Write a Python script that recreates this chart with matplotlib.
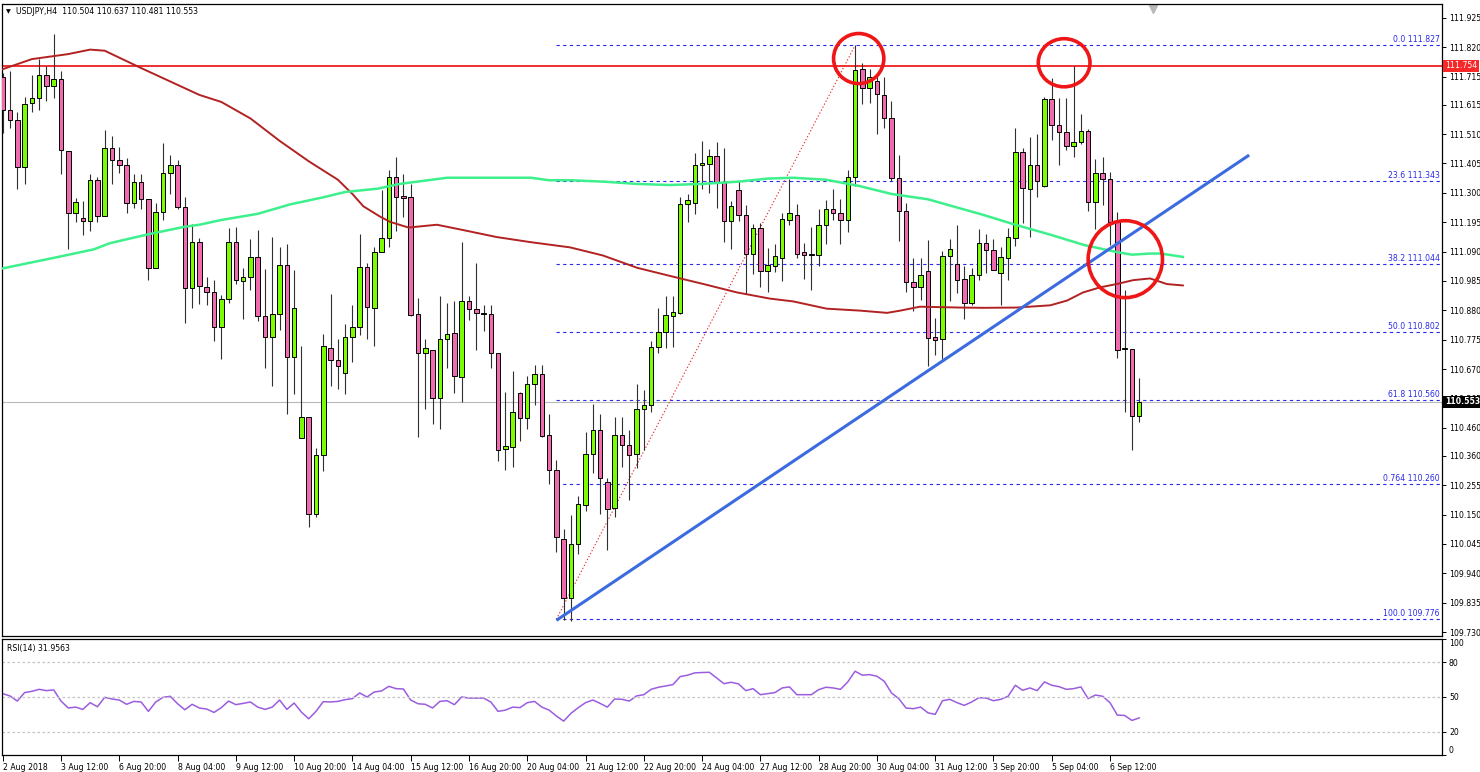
import matplotlib
matplotlib.use("Agg")
import matplotlib.pyplot as plt
from matplotlib.patches import Ellipse
from matplotlib.transforms import blended_transform_factory
import numpy as np

# USDJPY H4, une bougie par barre (barre 0 = 2 Aug 2018)
opens = [111.713, 111.596, 111.562, 111.391, 111.620, 111.640, 111.720, 111.683, 111.708, 111.450,
         111.227, 111.211, 111.200, 111.345, 111.218, 111.460, 111.419, 111.398, 111.262, 111.337,
         111.277, 111.030, 111.230, 111.370, 111.401, 111.249, 110.959, 111.124, 110.963, 110.944,
         110.820, 110.920, 111.124, 110.985, 110.998, 111.069, 110.860, 110.783, 110.867, 111.042,
         110.713, 110.425, 110.498, 110.151, 110.364, 110.747, 110.703, 110.655, 110.784, 110.820,
         111.035, 110.890, 111.088, 111.139, 111.358, 111.288, 111.285, 110.868, 110.728, 110.740,
         110.567, 110.776, 110.798, 110.640, 110.912, 110.886, 110.871, 110.867, 110.728, 110.384,
         110.393, 110.583, 110.494, 110.615, 110.652, 110.435, 110.311, 110.064, 109.851, 110.045,
         110.184, 110.366, 110.451, 110.268, 110.172, 110.435, 110.399, 110.366, 110.527, 110.542,
         110.750, 110.801, 110.860, 110.871, 111.259, 111.263, 111.398, 111.402, 111.430, 111.337,
         111.200, 111.310, 111.220, 111.081, 111.174, 111.020, 111.040, 111.066, 111.204, 111.222,
         111.088, 111.080, 111.079, 111.186, 111.242, 111.227, 111.203, 111.358, 111.742, 111.676,
         111.700, 111.651, 111.569, 111.354, 111.234, 110.980, 110.962, 111.021, 110.783, 110.776,
         111.073, 111.047, 110.991, 110.908, 111.007, 111.120, 111.095, 111.015, 111.066, 111.139,
         111.445, 111.315, 111.398, 111.325, 111.635, 111.541, 111.518, 111.468, 111.483, 111.522,
         111.269, 111.372, 111.350, 111.196, 110.742, 110.742, 110.504]
highs = [111.730, 111.735, 111.588, 111.644, 111.720, 111.780, 111.752, 111.869, 111.735, 111.450,
         111.280, 111.270, 111.369, 111.357, 111.525, 111.503, 111.464, 111.424, 111.369, 111.369,
         111.277, 111.262, 111.478, 111.437, 111.419, 111.284, 111.190, 111.139, 110.998, 110.988,
         110.934, 111.174, 111.178, 111.032, 111.135, 111.167, 111.028, 111.142, 111.105, 111.116,
         111.025, 110.754, 110.498, 110.388, 110.794, 110.937, 110.776, 110.830, 110.898, 111.154,
         111.050, 111.108, 111.310, 111.380, 111.427, 111.368, 111.332, 110.925, 110.776, 110.740,
         110.930, 110.908, 110.915, 111.123, 110.933, 111.050, 110.900, 110.898, 110.728, 110.589,
         110.662, 110.589, 110.644, 110.684, 110.684, 110.508, 110.345, 110.099, 110.147, 110.216,
         110.444, 110.546, 110.508, 110.279, 110.498, 110.498, 110.451, 110.615, 110.596, 110.769,
         110.890, 110.930, 110.930, 111.285, 111.296, 111.442, 111.486, 111.457, 111.483, 111.460,
         111.270, 111.342, 111.255, 111.190, 111.193, 111.102, 111.117, 111.227, 111.351, 111.259,
         111.120, 111.178, 111.244, 111.274, 111.313, 111.278, 111.383, 111.827, 111.764, 111.742,
         111.716, 111.713, 111.628, 111.435, 111.263, 111.066, 111.066, 111.130, 110.852, 111.091,
         111.135, 111.186, 111.040, 111.032, 111.171, 111.152, 111.135, 111.108, 111.174, 111.533,
         111.460, 111.500, 111.511, 111.642, 111.710, 111.640, 111.640, 111.752, 111.581, 111.527,
         111.420, 111.427, 111.376, 111.230, 110.952, 110.742, 110.637]
lows = [111.515, 111.530, 111.313, 111.332, 111.590, 111.595, 111.630, 111.640, 111.369, 111.098,
        111.196, 111.150, 111.164, 111.196, 111.218, 111.332, 111.372, 111.227, 111.247, 111.241,
        110.988, 111.030, 111.203, 111.296, 111.242, 110.835, 110.889, 110.903, 110.898, 110.772,
        110.707, 110.908, 110.974, 110.850, 110.952, 110.842, 110.674, 110.608, 110.810, 110.508,
        110.582, 110.425, 110.107, 110.142, 110.304, 110.608, 110.600, 110.582, 110.696, 110.791,
        110.776, 110.751, 111.088, 111.105, 111.164, 111.212, 110.860, 110.428, 110.527, 110.472,
        110.457, 110.674, 110.586, 110.552, 110.846, 110.740, 110.805, 110.674, 110.340, 110.311,
        110.320, 110.413, 110.457, 110.542, 110.428, 110.261, 110.015, 109.774, 109.771, 110.008,
        110.162, 110.300, 110.151, 110.025, 110.140, 110.320, 110.201, 110.315, 110.381, 110.516,
        110.728, 110.747, 110.750, 110.868, 111.196, 111.225, 111.313, 111.299, 111.247, 111.123,
        111.098, 111.200, 110.937, 111.010, 110.963, 110.947, 111.018, 110.985, 111.186, 111.066,
        110.991, 110.952, 111.040, 111.117, 111.203, 111.116, 111.161, 111.325, 111.618, 111.620,
        111.512, 111.533, 111.342, 111.127, 110.947, 110.879, 110.918, 110.681, 110.720, 110.707,
        110.912, 110.942, 110.849, 110.898, 110.988, 111.015, 111.025, 110.898, 110.988, 111.110,
        111.193, 111.142, 111.284, 111.322, 111.489, 111.398, 111.452, 111.427, 111.474, 111.234,
        111.171, 111.255, 111.113, 110.710, 110.517, 110.381, 110.481]
closes = [111.596, 111.559, 111.391, 111.618, 111.640, 111.720, 111.683, 111.708, 111.452, 111.227,
          111.266, 111.200, 111.345, 111.218, 111.460, 111.419, 111.398, 111.262, 111.337, 111.277,
          111.030, 111.230, 111.372, 111.401, 111.249, 110.959, 111.124, 110.966, 110.944, 110.820,
          110.920, 111.124, 110.988, 110.998, 111.069, 110.860, 110.783, 110.867, 111.042, 110.713,
          110.889, 110.498, 110.151, 110.364, 110.751, 110.703, 110.681, 110.784, 110.820, 111.035,
          110.893, 111.088, 111.139, 111.358, 111.285, 111.282, 110.864, 110.728, 110.744, 110.567,
          110.776, 110.795, 110.644, 110.912, 110.886, 110.871, 110.867, 110.728, 110.381, 110.396,
          110.516, 110.494, 110.615, 110.652, 110.432, 110.308, 110.069, 109.851, 110.045, 110.187,
          110.366, 110.454, 110.279, 110.169, 110.435, 110.399, 110.364, 110.527, 110.542, 110.750,
          110.801, 110.864, 110.874, 111.259, 111.274, 111.401, 111.405, 111.430, 111.337, 111.200,
          111.252, 111.222, 111.081, 111.174, 111.020, 111.042, 111.073, 111.205, 111.227, 111.083,
          111.079, 111.078, 111.186, 111.242, 111.227, 111.203, 111.358, 111.739, 111.676, 111.713,
          111.654, 111.569, 111.354, 111.234, 110.981, 110.962, 111.006, 110.780, 110.773, 111.073,
          111.101, 110.988, 110.908, 111.007, 111.120, 111.095, 111.025, 111.069, 111.142, 111.445,
          111.318, 111.398, 111.344, 111.635, 111.541, 111.518, 111.468, 111.483, 111.522, 111.269,
          111.372, 111.351, 111.196, 110.740, 110.745, 110.502, 110.553]

# RSI(14)
rsi = [52.9, 50.9, 46.5, 53.8, 54.9, 56.6, 55.5, 56.1, 46.5, 40.5,
       41.3, 39.3, 45.1, 41.6, 49.7, 48.3, 47.4, 43.7, 46.2, 45.7,
       37.6, 45.7, 49.7, 50.6, 44.2, 39.0, 43.7, 40.5, 39.6, 36.7,
       40.8, 46.5, 43.4, 44.5, 45.7, 41.3, 39.3, 41.3, 47.4, 39.3,
       44.8, 37.0, 31.2, 37.6, 46.0, 45.7, 46.2, 47.7, 48.6, 53.5,
       50.0, 54.3, 55.2, 59.2, 57.2, 56.9, 47.4, 44.2, 43.7, 40.5,
       46.2, 46.8, 43.4, 50.0, 49.1, 49.1, 49.1, 45.7, 37.6, 38.7,
       41.3, 40.8, 45.1, 46.2, 41.3, 38.7, 33.6, 29.2, 35.9, 40.8,
       45.1, 47.4, 44.5, 41.3, 48.3, 48.0, 46.5, 50.9, 52.0, 56.6,
       58.4, 59.5, 60.7, 67.6, 68.8, 70.8, 71.1, 71.3, 66.4, 61.5,
       62.7, 61.3, 55.5, 57.2, 52.0, 52.9, 53.8, 57.8, 58.7, 52.0,
       52.0, 52.0, 56.3, 58.4, 57.8, 56.6, 63.0, 72.2, 68.8, 69.3,
       67.9, 63.6, 53.5, 48.6, 40.5, 39.9, 41.3, 36.4, 35.0, 46.8,
       48.0, 45.1, 42.8, 45.7, 49.4, 49.1, 46.8, 48.0, 50.6, 60.1,
       55.8, 57.8, 55.5, 63.0, 60.1, 58.9, 56.6, 57.2, 58.7, 48.6,
       51.7, 50.6, 45.1, 34.4, 34.1, 29.8, 31.96]

# moyennes mobiles (barre, prix)
ma_red_bar = [0, 4, 9, 12, 14, 19, 23, 27, 30, 34, 38, 42, 46, 48, 49.5, 51.8, 53.2, 55.7, 59.6,
              63.2, 67.8, 72.4, 77.9, 82.4, 87.1, 91.6, 96.2, 100.8, 105.3, 108.5, 113.1, 117.7,
              121.4, 123.2, 125.9, 131.4, 134.6, 139.2, 143.8, 146.1, 148.3, 150.6, 152.9, 155.2,
              157.5, 159.8, 162]
ma_red_val = [111.742, 111.778, 111.796, 111.812, 111.808, 111.746, 111.698, 111.650, 111.625,
              111.566, 111.486, 111.413, 111.347, 111.296, 111.252, 111.215, 111.196, 111.176,
              111.186, 111.167, 111.142, 111.124, 111.105, 111.076, 111.032, 111.003, 110.974,
              110.944, 110.922, 110.912, 110.886, 110.879, 110.871, 110.879, 110.893, 110.890,
              110.889, 110.890, 110.898, 110.915, 110.944, 110.962, 110.974, 110.988, 110.994,
              110.974, 110.969]
ma_green_bar = [0, 8, 12.5, 14.7, 20, 25, 27, 30, 35, 39.5, 44, 47, 51.5, 54.5, 57.5, 61, 65.5,
                72.5, 75, 78, 82.5, 87, 91.5, 96, 101, 105, 108.5, 113, 117.5, 122, 127, 131.5,
                134.5, 139, 144, 148.5, 153, 155, 157.5, 159, 162]
ma_green_val = [111.030, 111.073, 111.098, 111.120, 111.152, 111.179, 111.186, 111.203, 111.225,
                111.259, 111.284, 111.303, 111.315, 111.332, 111.342, 111.354, 111.354, 111.354,
                111.345, 111.345, 111.340, 111.332, 111.328, 111.332, 111.340, 111.351, 111.354,
                111.347, 111.325, 111.296, 111.277, 111.244, 111.222, 111.186, 111.149, 111.113,
                111.088, 111.079, 111.083, 111.083, 111.071]

date_bars = list(range(0, 153, 8))
date_labels = ["2 Aug 2018", "3 Aug 12:00", "6 Aug 20:00", "8 Aug 04:00", "9 Aug 12:00",
               "10 Aug 20:00", "14 Aug 04:00", "15 Aug 12:00", "16 Aug 20:00", "20 Aug 04:00",
               "21 Aug 12:00", "22 Aug 20:00", "24 Aug 04:00", "27 Aug 12:00", "28 Aug 20:00",
               "30 Aug 04:00", "31 Aug 12:00", "3 Sep 20:00", "5 Sep 04:00", "6 Sep 12:00"]

price_ticks = [111.925, 111.820, 111.715, 111.615, 111.510, 111.405, 111.300, 111.195, 111.090,
               110.985, 110.880, 110.775, 110.670, 110.565, 110.460, 110.360, 110.255, 110.150,
               110.045, 109.940, 109.835, 109.730]

fib_names = ["0.0", "23.6", "38.2", "50.0", "61.8", "0.764", "100.0"]
fib_levels = [111.827, 111.343, 111.044, 110.802, 110.560, 110.260, 109.776]
fib_start_bar, fib_end_bar = 76, 117

trend_bars = [76, 171.1]
trend_vals = [109.772, 111.435]

resistance = 111.754
last_price = 110.553

# cercles (barre centre, prix centre, largeur en barres, hauteur en prix)
circles = [(117.5, 111.780, 6.9, 0.179), (145.7, 111.765, 7.1, 0.172), (154.1, 111.063, 10.2, 0.275)]

W, H = 1480, 772
FS = 5.6
fig = plt.figure(figsize=(W / 100, H / 100), dpi=100)
fig.patch.set_facecolor("white")
ax = fig.add_axes([2 / W, 1 - 636 / H, 1440 / W, 632 / H])
ax_rsi = fig.add_axes([2 / W, 1 - 755 / H, 1440 / W, 116 / H])

o = np.array(opens)
h = np.array(highs)
l = np.array(lows)
c = np.array(closes)
x = np.arange(len(o))
up = c >= o

# bougies
ax.vlines(x, l, h, color="#303030", lw=0.8, zorder=3)
body = np.maximum(np.abs(c - o), 0.003)
ax.bar(x, body, bottom=np.minimum(o, c), width=0.62,
       color=np.where(up, "#7CFC00", "#F06AB0"), edgecolor="black", linewidth=0.7, zorder=4)

# moyennes mobiles
ax.plot(ma_red_bar, ma_red_val, color="#B22222", lw=1.4, zorder=5)
ax.plot(ma_green_bar, ma_green_val, color="#3DF08C", lw=1.8, zorder=5)

# resistance + prix courant
ax.axhline(resistance, color="#F02020", lw=1.3, zorder=2)
ax.axhline(last_price, color="#B8B8B8", lw=0.8, zorder=1)

# fibonacci
for name, lev in zip(fib_names, fib_levels):
    ax.hlines(lev, fib_start_bar, 200, color="#2A2AE8", lw=0.8, linestyle=(0, (3, 3)), zorder=1.5)
    ax.text(0.9985, lev + 0.004, f"{name} {lev:.3f}", transform=blended_transform_factory(ax.transAxes, ax.transData),
            ha="right", va="bottom", fontsize=FS, color="#2A2AE8", zorder=6)
ax.plot([fib_start_bar, fib_end_bar], [fib_levels[-1], fib_levels[0]], color="#E83030",
        lw=0.8, linestyle=(0, (1.2, 1.8)), zorder=2)

# ligne de tendance
ax.plot(trend_bars, trend_vals, color="#3C6BE0", lw=2.2, zorder=6, solid_capstyle="butt")

for cx, cy, cw, chh in circles:
    ax.add_patch(Ellipse((cx, cy), cw, chh, fill=False, ec="#EE1616", lw=2.6, zorder=7))

ax.set_xlim(-0.1, 197.57)
ax.set_ylim(109.716, 111.975)
ax.yaxis.tick_right()
ax.set_yticks(price_ticks)
ax.set_yticklabels([f"{v:.3f}" for v in price_ticks])
ax.tick_params(axis="y", labelsize=FS, length=3, width=0.7, pad=2)
ax.set_xticks([])
for s in ax.spines.values():
    s.set_linewidth(0.9)

blend = blended_transform_factory(ax.transAxes, ax.transData)
ax.text(1.002, resistance, f"{resistance:.3f}", transform=blend, ha="left", va="center", fontsize=FS,
        color="white", clip_on=False, zorder=10,
        bbox=dict(boxstyle="square,pad=0.2", fc="#F82828", ec="none"))
ax.text(1.002, last_price, f"{last_price:.3f}", transform=blend, ha="left", va="center", fontsize=FS,
        color="white", fontweight="bold", clip_on=False, zorder=10,
        bbox=dict(boxstyle="square,pad=0.2", fc="black", ec="none"))

# marqueur de decalage du graphique
ax.plot([157.9], [0.992], marker="v", ms=6, color="#B8B8B8",
        transform=blended_transform_factory(ax.transData, ax.transAxes), clip_on=False)

fig.text(6 / W, 1 - 12 / H, "\u25bc", fontsize=4.5, va="center", ha="left")
fig.text(16 / W, 1 - 12 / H, "USDJPY,H4  110.504 110.637 110.481 110.553", fontsize=FS,
         va="center", ha="left")

# RSI
ax_rsi.plot(x, rsi, color="#9B5DE0", lw=1.1)
for lv in [20, 50, 80]:
    ax_rsi.axhline(lv, color="#C4C4C4", lw=0.9, linestyle=(0, (2, 2)))
ax_rsi.set_xlim(-0.1, 197.57)
ax_rsi.set_ylim(0, 100)
ax_rsi.yaxis.tick_right()
ax_rsi.set_yticks([0, 20, 50, 80, 100])
ax_rsi.set_yticklabels(["0", "20", "50", "80", "100"])
ax_rsi.tick_params(axis="y", labelsize=FS, length=3, width=0.7, pad=2)
lbls = ax_rsi.get_yticklabels()
lbls[0].set_va("bottom")
lbls[-1].set_va("top")
ax_rsi.set_xticks(date_bars)
ax_rsi.set_xticklabels(date_labels, ha="left")
ax_rsi.tick_params(axis="x", labelsize=FS, length=4, width=0.7, pad=1.5)
for s in ax_rsi.spines.values():
    s.set_linewidth(0.9)
ax_rsi.text(5 / 1440, 0.92, "RSI(14) 31.9563", transform=ax_rsi.transAxes, fontsize=FS,
            ha="left", va="center")

fig.savefig("out.png", dpi=100)
